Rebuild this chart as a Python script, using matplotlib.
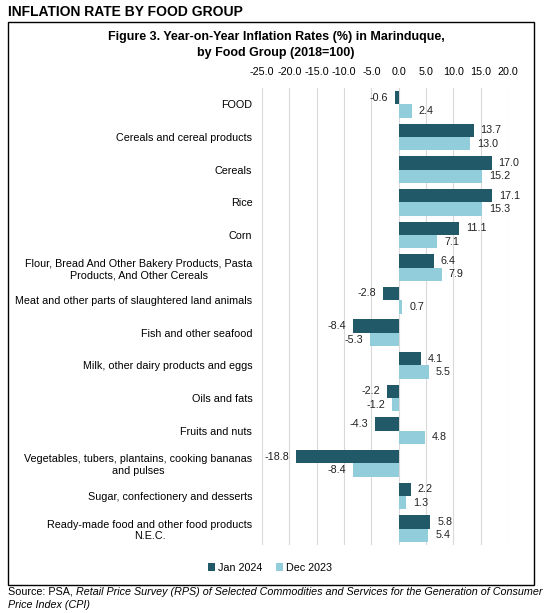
import numpy as np
import matplotlib
matplotlib.use("Agg")
import matplotlib.pyplot as plt
import matplotlib.patches as patches

plt.rcParams['font.family'] = ['Liberation Sans', 'DejaVu Sans']

categories = [
    "FOOD",
    "Cereals and cereal products",
    "Cereals",
    "Rice",
    "Corn",
    "Flour, Bread And Other Bakery Products, Pasta\nProducts, And Other Cereals",
    "Meat and other parts of slaughtered land animals",
    "Fish and other seafood",
    "Milk, other dairy products and eggs",
    "Oils and fats",
    "Fruits and nuts",
    "Vegetables, tubers, plantains, cooking bananas\nand pulses",
    "Sugar, confectionery and desserts",
    "Ready-made food and other food products\nN.E.C.",
]
jan_2024 = [-0.6, 13.7, 17.0, 17.1, 11.1, 6.4, -2.8, -8.4, 4.1, -2.2, -4.3, -18.8, 2.2, 5.8]
dec_2023 = [2.4, 13.0, 15.2, 15.3, 7.1, 7.9, 0.7, -5.3, 5.5, -1.2, 4.8, -8.4, 1.3, 5.4]
series_names = ["Jan 2024", "Dec 2023"]
x_ticks = [-25, -20, -15, -10, -5, 0, 5, 10, 15, 20]

dark = "#215968"
light = "#92CDDC"
fs = 7.75

W, H = 552, 613
fig = plt.figure(figsize=(W / 100, H / 100), dpi=100)

def fx(px):
    return px / W

def fy(py):
    return 1 - py / H

ax = fig.add_axes([fx(262), fy(545), fx(508) - fx(262), fy(88) - fy(545)])

y = np.arange(len(categories))
h = 0.41
b1 = ax.barh(y - h / 2, jan_2024, height=h, color=dark, label=series_names[0])
b2 = ax.barh(y + h / 2, dec_2023, height=h, color=light, label=series_names[1])

for bars, vals in ((b1, jan_2024), (b2, dec_2023)):
    for bar, v in zip(bars, vals):
        yy = bar.get_y() + bar.get_height() / 2
        off = 5 if v >= 0 else -5
        ax.annotate(f"{v:.1f}", (v, yy), xytext=(off, 0), textcoords="offset points",
                    ha="left" if v >= 0 else "right", va="center", fontsize=fs,
                    color="#222222", annotation_clip=False)

ax.set_xlim(-25, 20)
ax.set_ylim(len(categories) - 0.5, -0.5)
ax.set_xticks(x_ticks)
ax.set_xticklabels([f"{t:.1f}" for t in x_ticks], fontsize=fs)
ax.xaxis.tick_top()
ax.tick_params(axis="x", length=0, pad=8)
ax.set_yticks(y)
ax.set_yticklabels(categories, fontsize=fs)
for lab in ax.get_yticklabels():
    lab.set_multialignment("center")
ax.tick_params(axis="y", length=0, pad=7)
ax.grid(axis="x", color="#d9d9d9", linewidth=0.8)
ax.set_axisbelow(True)
for s in ax.spines.values():
    s.set_visible(False)

# outer box
fig.patches.append(patches.Rectangle((fx(8), fy(585)), fx(534) - fx(8), fy(22) - fy(585),
                                     transform=fig.transFigure, fill=False,
                                     edgecolor="black", linewidth=1.0))

fig.text(fx(8), fy(12), "INFLATION RATE BY FOOD GROUP", fontsize=10, fontweight="bold",
         ha="left", va="center")
fig.text(fx(276), fy(45), "Figure 3. Year-on-Year Inflation Rates (%) in Marinduque,\nby Food Group (2018=100)",
         fontsize=9, fontweight="bold", ha="center", va="center", linespacing=1.45)

fig.legend(handles=[b1, b2], labels=series_names, loc="center", bbox_to_anchor=(fx(270), fy(568)),
           ncol=2, frameon=False, fontsize=fs, handlelength=0.7, handleheight=0.7,
           handletextpad=0.3, columnspacing=1.2)

# source note, partly italic
t1 = fig.text(fx(8), fy(592), "Source: PSA, ", fontsize=fs, ha="left", va="center")
fig.canvas.draw()
bb = t1.get_window_extent()
fig.text(bb.x1 / W, fy(592),
         "Retail Price Survey (RPS) of Selected Commodities and Services for the Generation of Consumer",
         fontsize=fs, style="italic", ha="left", va="center")
fig.text(fx(8), fy(605), "Price Index (CPI)", fontsize=fs, style="italic", ha="left", va="center")

fig.savefig("out.png", dpi=100)
